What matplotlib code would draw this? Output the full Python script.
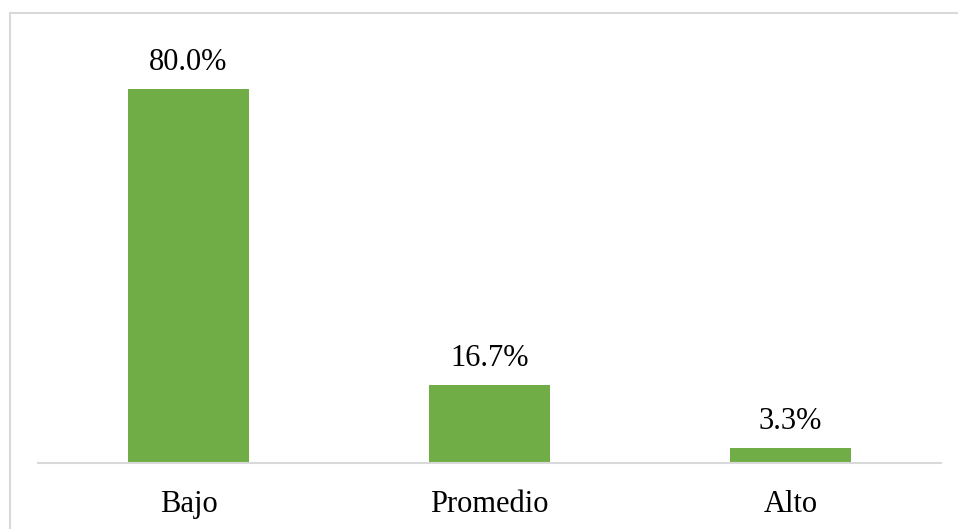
import matplotlib
matplotlib.use("Agg")
import matplotlib.pyplot as plt
from matplotlib.patches import Rectangle

categories = ["Bajo", "Promedio", "Alto"]
values = [80.0, 16.7, 3.3]
labels = ["80.0%", "16.7%", "3.3%"]

W, H = 958, 529
fig = plt.figure(figsize=(W / 100, H / 100), dpi=100)
fig.patch.set_facecolor("white")

# outer chart border (light gray), extends past right/bottom edges
fig.patches.append(Rectangle((9.5 / W, -0.05), 1.2, (H - 12.5) / H + 0.05,
                             transform=fig.transFigure, fill=False,
                             edgecolor="#D9D9D9", linewidth=1.5))

PX_PER_UNIT = 4.675
ax = fig.add_axes([38 / W, 66 / H, 903 / W, 443 / H])
ax.bar(range(len(categories)), values, width=0.4, color="#70AD47")
ax.set_xlim(-0.5, len(categories) - 0.5)
ax.set_ylim(0, 443 / PX_PER_UNIT)

for i, (v, t) in enumerate(zip(values, labels)):
    ax.text(i, v + 19 / PX_PER_UNIT, t, ha="center", va="baseline",
            fontsize=22, family="Liberation Serif", color="black")

ax.set_xticks(range(len(categories)))
ax.set_xticklabels(categories, fontsize=22, family="Liberation Serif")
for lab in ax.get_xticklabels():
    lab.set_verticalalignment("baseline")
ax.tick_params(axis="x", length=0, pad=49 * 0.72)
ax.set_yticks([])
for s in ["top", "right", "left"]:
    ax.spines[s].set_visible(False)
ax.spines["bottom"].set_color("#D9D9D9")
ax.spines["bottom"].set_linewidth(1.5)

fig.savefig("out.png", dpi=100)
